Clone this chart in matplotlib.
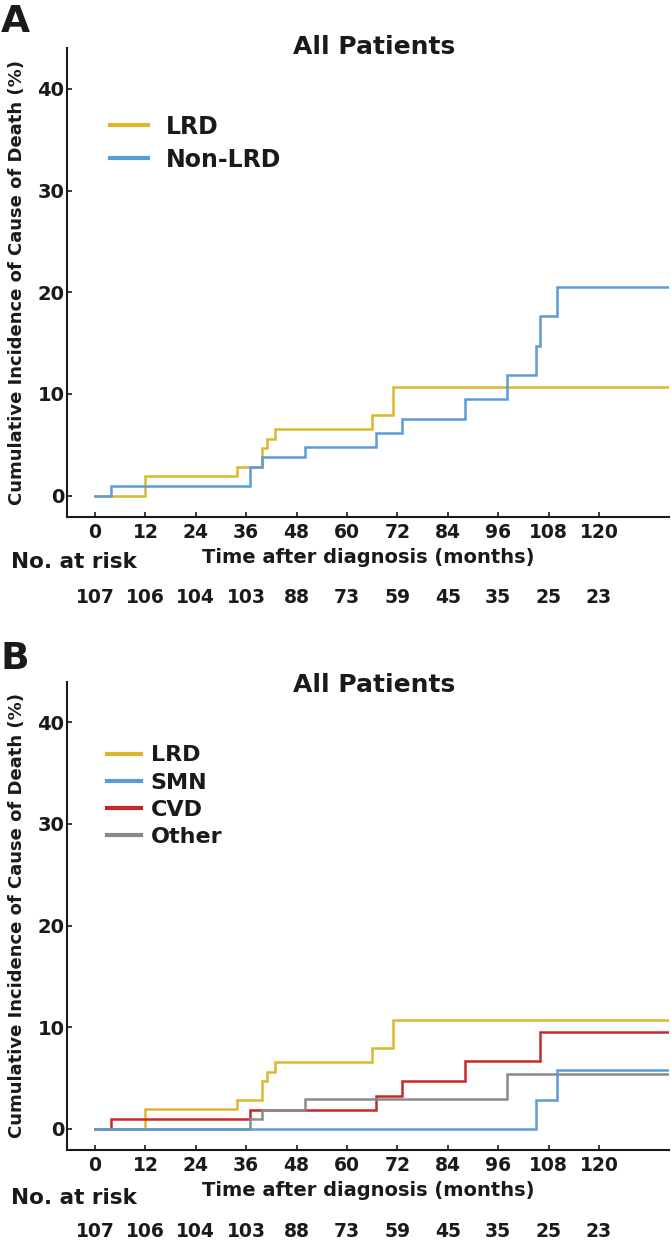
import matplotlib
matplotlib.use("Agg")
import matplotlib.pyplot as plt
from matplotlib.lines import Line2D
from matplotlib.transforms import blended_transform_factory

# ---------------- data ----------------
x_ticks = [0, 12, 24, 36, 48, 60, 72, 84, 96, 108, 120]
y_ticks = [0, 10, 20, 30, 40]
at_risk = [107, 106, 104, 103, 88, 73, 59, 45, 35, 25, 23]
end_time = 136.6

lrd_t = [0, 12.0, 33.8, 39.8, 40.9, 42.8, 66.0, 70.9]
lrd_v = [0, 1.9, 2.85, 4.7, 5.62, 6.55, 7.9, 10.72]

nonlrd_t = [0, 3.9, 37.0, 39.8, 49.9, 66.9, 73.0, 88.2, 98.2, 105.0, 106.0, 110.1]
nonlrd_v = [0, 0.96, 2.84, 3.76, 4.8, 6.18, 7.58, 9.48, 11.86, 14.7, 17.65, 20.55]

smn_t = [0, 105.0, 110.1]
smn_v = [0, 2.87, 5.74]

cvd_t = [0, 3.9, 37.0, 66.9, 73.0, 88.2, 106.0]
cvd_v = [0, 0.93, 1.88, 3.23, 4.65, 6.63, 9.47]

other_t = [0, 37.0, 39.8, 49.9, 98.2]
other_v = [0, 0.93, 1.88, 2.94, 5.42]

C_LRD = "#DDB62E"
C_SMN = "#5B9BD8"
C_CVD = "#C8282A"
C_OTH = "#8A8A8A"
C_TXT = "#1a1a1a"

W, H = 671, 1243
plt.rcParams["font.family"] = ["DejaVu Sans"]
plt.rcParams["font.weight"] = "bold"
fig = plt.figure(figsize=(W / 100, H / 100), dpi=100)


def fx(x):
    return x / W


def fy(y):
    return 1 - y / H


def step(ax, t, v, color, label):
    tt = list(t) + [end_time]
    vv = list(v) + [v[-1]]
    ax.step(tt, vv, where="post", color=color, lw=1.8, label=label,
            solid_joinstyle="miter")


def style_axes(ax):
    ax.set_xlim(-6.6, 136.6)
    ax.set_ylim(-2.1, 44.0)
    for s in ["top", "right"]:
        ax.spines[s].set_visible(False)
    for s in ["left", "bottom"]:
        ax.spines[s].set_linewidth(1.5)
        ax.spines[s].set_color(C_TXT)
    ax.set_xticks(x_ticks)
    ax.set_yticks(y_ticks)
    ax.tick_params(axis="x", direction="in", length=3.5, width=1.2,
                   labelsize=13.5, pad=4, colors=C_TXT)
    ax.tick_params(axis="y", direction="in", length=3.5, width=1.2,
                   labelsize=14, pad=2, colors=C_TXT)
    for lab in ax.get_xticklabels() + ax.get_yticklabels():
        lab.set_fontweight("bold")


def annotate(ax, y_top, y_bot, letter, letter_y, title_y, xlab_y, risk_lab_y, risk_y):
    fig.text(fx(1), fy(letter_y), letter, fontsize=27, fontweight="bold",
             ha="left", va="center", color=C_TXT)
    fig.text(fx(373.7), fy(title_y), "All Patients", fontsize=18,
             fontweight="bold", ha="center", va="center", color=C_TXT)
    fig.text(fx(368.6), fy(xlab_y), "Time after diagnosis (months)",
             fontsize=14, fontweight="bold", ha="center", va="center",
             color=C_TXT)
    fig.text(fx(10.7), fy(risk_lab_y), "No. at risk", fontsize=15.5,
             fontweight="bold", ha="left", va="center", color=C_TXT)
    fig.text(fx(17), fy((y_top + y_bot) / 2),
             "Cumulative Incidence of Cause of Death (%)", fontsize=13,
             fontweight="bold", rotation=90, ha="center", va="center",
             color=C_TXT)
    tr = blended_transform_factory(ax.transData, fig.transFigure)
    for t, n in zip(x_ticks, at_risk):
        ax.text(t, fy(risk_y), str(n), transform=tr, fontsize=13.5,
                fontweight="bold", ha="center", va="center", color=C_TXT)


# ---------------- panel A ----------------
left, right = 67.3, 668.6
a_top, a_bot = 48.3, 517
axA = fig.add_axes([fx(left), fy(a_bot), (right - left) / W, (a_bot - a_top) / H])
style_axes(axA)
step(axA, lrd_t, lrd_v, C_LRD, "LRD")
step(axA, nonlrd_t, nonlrd_v, C_SMN, "Non-LRD")
handlesA = [Line2D([], [], color=C_LRD, lw=3), Line2D([], [], color=C_SMN, lw=3)]
axA.legend(handlesA, ["LRD", "Non-LRD"], loc="upper left",
           bbox_to_anchor=(fx(105), fy(110)), bbox_transform=fig.transFigure,
           frameon=False, fontsize=17, handlelength=1.63, handletextpad=0.76,
           labelspacing=0.38, borderaxespad=0, borderpad=0.2,
           labelcolor=C_TXT)
annotate(axA, a_top, a_bot, "A", 21.5, 46.5, 557.3, 561.7, 597.7)

# ---------------- panel B ----------------
b_top, b_bot = 681.7, 1150
axB = fig.add_axes([fx(left), fy(b_bot), (right - left) / W, (b_bot - b_top) / H])
style_axes(axB)
step(axB, lrd_t, lrd_v, C_LRD, "LRD")
step(axB, cvd_t, cvd_v, C_CVD, "CVD")
step(axB, other_t, other_v, C_OTH, "Other")
step(axB, smn_t, smn_v, C_SMN, "SMN")
handlesB = [Line2D([], [], color=c, lw=3) for c in [C_LRD, C_SMN, C_CVD, C_OTH]]
axB.legend(handlesB, ["LRD", "SMN", "CVD", "Other"], loc="upper left",
           bbox_to_anchor=(fx(103), fy(741)), bbox_transform=fig.transFigure,
           frameon=False, fontsize=16, handlelength=1.5, handletextpad=0.45,
           labelspacing=0.32, borderaxespad=0, borderpad=0.2,
           labelcolor=C_TXT)
annotate(axB, b_top, b_bot, "B", 659, 685, 1190.7, 1198, 1231.7)

fig.savefig("out.png", dpi=100, facecolor="white")
